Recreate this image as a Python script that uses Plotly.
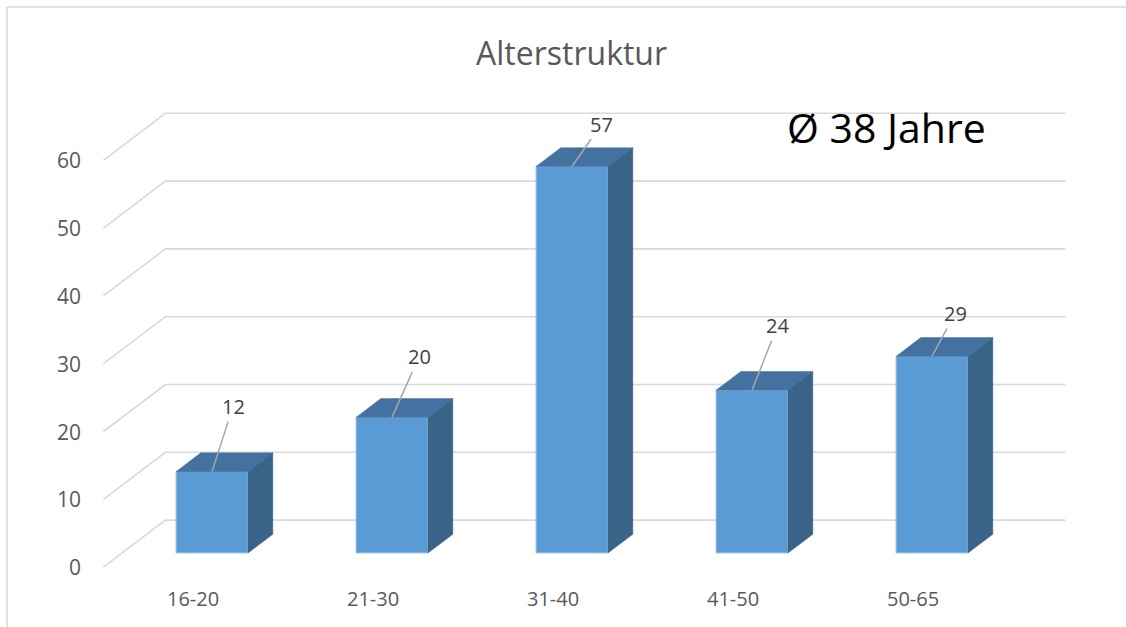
import plotly.graph_objects as go

# ---------------- data ----------------
categories = ["16-20", "21-30", "31-40", "41-50", "50-65"]
counts = [12, 20, 57, 24, 29]
y_ticks = [0, 10, 20, 30, 40, 50, 60]
title_text = "Alterstruktur"
average_text = "Ø 38 Jahre"

# ---------------- style / geometry ----------------
W, H = 1126, 627
PX_PER_CAT = 180.0      # pixels per category step
PX_PER_UNIT = 6.78      # pixels per value unit
ORIGIN_X_PX = 212.0     # pixel x of first bar centre (bar front plane)
ORIGIN_Y_PX = 553.0     # pixel y of value 0 (bar front plane)
DEPTH_DX_PX = 62.0      # full depth shift to the right (px)
DEPTH_UP_PX = 47.0      # full depth shift upward (px)
D_BAR_FRONT, D_BAR_BACK = 0.3, 0.7
BAR_W = 0.4
WALL_LEFT, WALL_RIGHT = -0.5, len(categories) - 0.5

FRONT = "#5B9BD5"
TOP = "#4372A0"
SIDE = "#3A6388"
GRID = "#D9D9D9"
FONT = "Open Sans"

label_dx = [21, 27, 29.5, 25.5, 23]     # data label offsets in px
label_up = [65, 60.5, 42.5, 64.5, 43]


def P(c, v, d):
    """category pos, value, depth(0=front edge,1=back wall) -> data coords"""
    return (c + (d - D_BAR_FRONT) * DEPTH_DX_PX / PX_PER_CAT,
            v + (d - D_BAR_FRONT) * DEPTH_UP_PX / PX_PER_UNIT)


x_range = [-ORIGIN_X_PX / PX_PER_CAT, (W - ORIGIN_X_PX) / PX_PER_CAT]
y_range = [-(H - ORIGIN_Y_PX) / PX_PER_UNIT, ORIGIN_Y_PX / PX_PER_UNIT]

fig = go.Figure()

# front faces
idx = list(range(len(categories)))
fig.add_trace(go.Bar(
    x=idx, y=counts, width=BAR_W,
    marker=dict(color=FRONT, line=dict(color="#A9C8E8", width=1)),
    hoverinfo="skip", showlegend=False))

# top and side faces
tx, ty, sx, sy = [], [], [], []
for i, v in zip(idx, counts):
    l, r = i - BAR_W / 2, i + BAR_W / 2
    pts = [P(l, v, D_BAR_FRONT), P(r, v, D_BAR_FRONT), P(r, v, D_BAR_BACK), P(l, v, D_BAR_BACK), P(l, v, D_BAR_FRONT)]
    tx += [p[0] for p in pts] + [None]
    ty += [p[1] for p in pts] + [None]
    pts = [P(r, 0, D_BAR_FRONT), P(r, v, D_BAR_FRONT), P(r, v, D_BAR_BACK), P(r, 0, D_BAR_BACK), P(r, 0, D_BAR_FRONT)]
    sx += [p[0] for p in pts] + [None]
    sy += [p[1] for p in pts] + [None]
fig.add_trace(go.Scatter(x=tx, y=ty, fill="toself", fillcolor=TOP, mode="lines",
                         line=dict(color=TOP, width=0.5), hoverinfo="skip", showlegend=False))
fig.add_trace(go.Scatter(x=sx, y=sy, fill="toself", fillcolor=SIDE, mode="lines",
                         line=dict(color=SIDE, width=0.5), hoverinfo="skip", showlegend=False))

# gridlines (side wall diagonals + back wall)
shapes = []
for k in y_ticks:
    a = P(WALL_LEFT, k, 0)
    b = P(WALL_LEFT, k, 1)
    c = P(WALL_RIGHT, k, 1)
    shapes.append(dict(type="path", xref="x", yref="y", layer="below",
                       path=f"M{a[0]},{a[1]} L{b[0]},{b[1]} L{c[0]},{c[1]}",
                       line=dict(color=GRID, width=1.6)))

# outer border (top + left)
shapes.append(dict(type="line", xref="paper", yref="paper", x0=7 / W, x1=1, y0=1 - 7 / H, y1=1 - 7 / H,
                   line=dict(color=GRID, width=1.6)))
shapes.append(dict(type="line", xref="paper", yref="paper", x0=7 / W, x1=7 / W, y0=0, y1=1 - 7 / H,
                   line=dict(color=GRID, width=1.6)))

annotations = []
# y tick labels
for k in y_ticks:
    px, py = P(WALL_LEFT, k, 0)
    annotations.append(dict(x=px, y=py, text=str(k), showarrow=False, xanchor="right", yanchor="middle",
                            xshift=-20, font=dict(family=FONT, size=21, color="#595959")))
# category labels
for i, cat in zip(idx, categories):
    px, py = P(i, 0, 0)
    annotations.append(dict(x=px, y=py, text=cat, showarrow=False, xanchor="center", yanchor="middle",
                            yshift=-31, font=dict(family=FONT, size=20, color="#595959")))
# data labels with leader lines
for i, v, dx, up in zip(idx, counts, label_dx, label_up):
    annotations.append(dict(x=i, y=v, text=str(v), showarrow=True, ax=dx, ay=-up, arrowhead=0,
                            arrowwidth=1.5, arrowcolor="#A6A6A6", standoff=0,
                            font=dict(family=FONT, size=20, color="#404040")))
# title and average
annotations.append(dict(x=571 / W, y=1 - 52 / H, xref="paper", yref="paper", text=title_text,
                        showarrow=False, xanchor="center", yanchor="middle",
                        font=dict(family=FONT, size=32, color="#595959")))
annotations.append(dict(x=886 / W, y=1 - 127 / H, xref="paper", yref="paper", text=average_text,
                        showarrow=False, xanchor="center", yanchor="middle",
                        font=dict(family=FONT, size=41, color="#000000")))

fig.update_layout(
    width=W, height=H, margin=dict(l=0, r=0, t=0, b=0),
    paper_bgcolor="white", plot_bgcolor="white",
    xaxis=dict(range=x_range, visible=False, fixedrange=True),
    yaxis=dict(range=y_range, visible=False, fixedrange=True),
    shapes=shapes, annotations=annotations, showlegend=False,
)

fig.write_html("out.html")
